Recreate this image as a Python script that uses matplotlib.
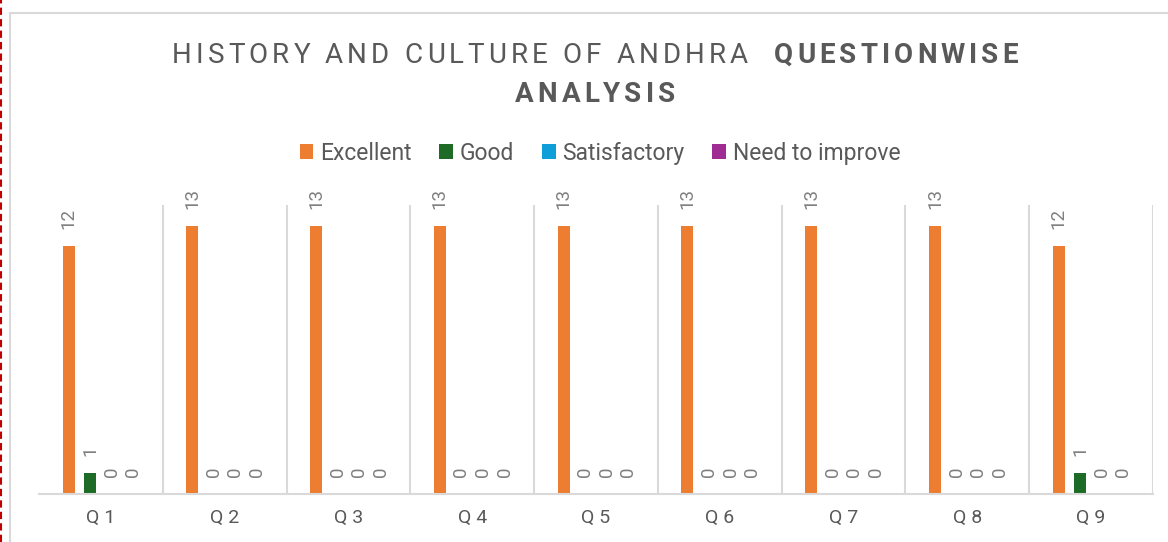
import matplotlib
matplotlib.use("Agg")
import matplotlib.pyplot as plt
import numpy as np
from matplotlib.lines import Line2D
from matplotlib.patches import Rectangle

questions = ["Q 1", "Q 2", "Q 3", "Q 4", "Q 5", "Q 6", "Q 7", "Q 8", "Q 9"]
series = ["Excellent", "Good", "Satisfactory", "Need to improve"]
excellent = [12, 13, 13, 13, 13, 13, 13, 13, 12]
good = [1, 0, 0, 0, 0, 0, 0, 0, 1]
satisfactory = [0, 0, 0, 0, 0, 0, 0, 0, 0]
need_improve = [0, 0, 0, 0, 0, 0, 0, 0, 0]
colors = ["#ED7D31", "#1D6B26", "#0E9ED8", "#A02B93"]

W, H = 1168, 542
plt.rcParams["font.family"] = ["Roboto", "DejaVu Sans"]
txt = "#595959"
lbl = "#7F7F7F"

fig = plt.figure(figsize=(W / 100, H / 100), dpi=100)
renderer = fig.canvas.get_renderer()

# outer chart frame and the dashed page marker on the left
fig.add_artist(Rectangle((10 / W, -0.05), 1.2, 1 - 13 / H + 0.05, transform=fig.transFigure,
                         fill=False, edgecolor="#D9D9D9", linewidth=1.5))
fig.add_artist(Line2D([1.2 / W, 1.2 / W], [0, 1], transform=fig.transFigure,
                      color="#C00000", linewidth=1.5, dashes=(3.5, 2)))

ax = fig.add_axes([39 / W, (H - 494) / H, 1114 / W, 289 / H])
x = np.arange(len(questions))
step = 0.174
width = 0.097
values = [excellent, good, satisfactory, need_improve]
for k, (name, vals, c) in enumerate(zip(series, values, colors)):
    xs = x + (k - 1.5) * step
    ax.bar(xs, vals, width, color=c, label=name)
    for xi, v in zip(xs, vals):
        ax.annotate(str(v), (xi, v), xytext=(0, 17), textcoords="offset pixels",
                    rotation=90, ha="center", va="bottom", fontsize=13.5, color=lbl)

ax.set_xlim(-0.5, len(questions) - 0.5)
ax.set_ylim(0, 14)
ax.set_yticks([])
ax.set_xticks(x)
ax.set_xticklabels(questions, fontsize=14, color=txt)
ax.tick_params(axis="x", length=0, pad=11)
for b in np.arange(0.5, len(questions), 1.0):
    ax.axvline(b, color="#D9D9D9", linewidth=1.5, zorder=0)
for s in ["top", "left", "right"]:
    ax.spines[s].set_visible(False)
ax.spines["bottom"].set_color("#D9D9D9")
ax.spines["bottom"].set_linewidth(1.5)


def text_width(s, **kw):
    t = fig.text(0, 0, s, **kw)
    w = t.get_window_extent(renderer).width
    t.remove()
    return w


def tracked_line(parts, xc, y, size, track):
    glyphs = []
    for s, weight in parts:
        for ch in s:
            glyphs.append((ch, weight))
    widths = []
    for ch, weight in glyphs:
        kw = dict(fontsize=size, fontweight=weight)
        if ch == " ":
            widths.append(text_width("H H", **kw) - text_width("HH", **kw))
        else:
            widths.append(text_width(ch, **kw))
    total = sum(widths) + track * (len(glyphs) - 1)
    px = xc - total / 2
    for (ch, weight), w in zip(glyphs, widths):
        if ch != " ":
            fig.text(px / W, y / H, ch, fontsize=size, fontweight=weight,
                     color=txt, ha="left", va="baseline")
        px += w + track


tracked_line([("HISTORY AND CULTURE OF ANDHRA  ", "normal"), ("QUESTIONWISE", "bold")],
             595, H - 63, 20, 4.1)
tracked_line([("ANALYSIS", "bold")], 595, H - 102, 20, 4.1)

fig.legend(loc="center", bbox_to_anchor=(600 / W, 1 - 153 / H), ncol=4, frameon=False,
           fontsize=16.5, handlelength=0.6, handleheight=0.6, handletextpad=0.3,
           columnspacing=1.2, labelcolor=txt)

fig.savefig("out.png", dpi=100)
